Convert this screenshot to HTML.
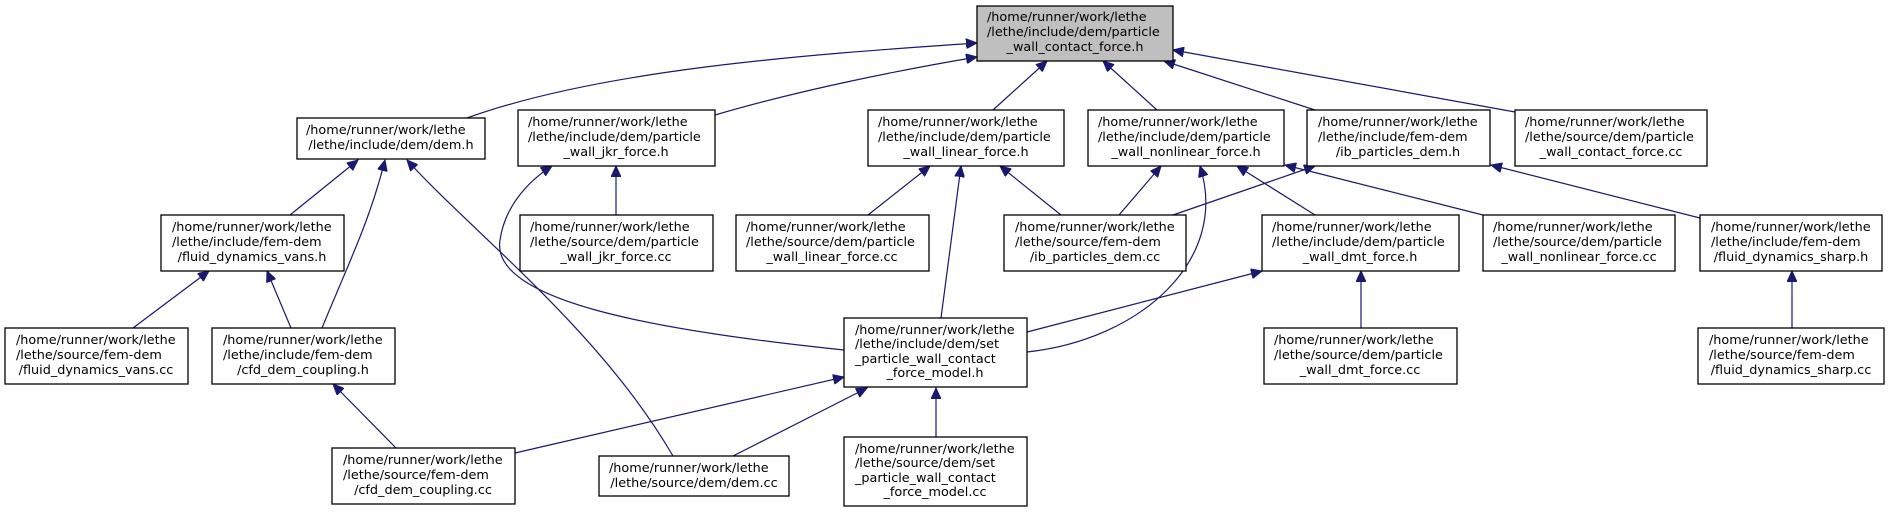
<!DOCTYPE html>
<html><head><meta charset="utf-8"><style>
html,body{margin:0;padding:0;background:#fff;}
svg{display:block;}
text{font-family:"DejaVu Sans","Liberation Sans",sans-serif;font-size:12.8px;fill:#000;}
rect{stroke:#000;stroke-width:1.3;}
path{fill:none;stroke:#191970;stroke-width:1.2;}
</style></head><body>
<svg width="1889" height="512" viewBox="0 0 1889 512" xmlns="http://www.w3.org/2000/svg">
<defs>
<marker id="a" markerUnits="userSpaceOnUse" markerWidth="12" markerHeight="10" refX="11" refY="5" orient="auto">
<path d="M0,0 L11,5 L0,10 Z" style="fill:#191970;stroke:#191970;stroke-width:1"/>
</marker>
</defs>
<g marker-end="url(#a)">
<path d="M467,118 C600,70 800,55 977,43"/>
<path d="M715,115 C800,90 900,70 977,57"/>
<path d="M993,110 L1047,61"/>
<path d="M1157,110 L1103,61"/>
<path d="M1315,110 L1164,61"/>
<path d="M1515,112 L1173,50"/>
<path d="M290,215 L358,160"/>
<path d="M322,328 C350,260 370,220 385,160"/>
<path d="M673,456 C600,330 470,230 407,160"/>
<path d="M133,328 L209,271"/>
<path d="M291,328 L267,271"/>
<path d="M396,448 L333,384"/>
<path d="M616,215 L616,166"/>
<path d="M844,350 C650,330 490,300 500,240 C505,205 530,180 552,166"/>
<path d="M868,215 L930,166"/>
<path d="M941,318 L961,166"/>
<path d="M1061,215 L1000,166"/>
<path d="M1119,215 L1161,166"/>
<path d="M1173,215 L1315,166"/>
<path d="M1027,352 C1140,340 1230,260 1200,166"/>
<path d="M1315,215 L1237,166"/>
<path d="M1483,215 L1285,165"/>
<path d="M1700,218 L1491,165"/>
<path d="M1027,332 L1262,271"/>
<path d="M1361,328 L1361,271"/>
<path d="M1792,328 L1792,271"/>
<path d="M515,453 L844,377"/>
<path d="M733,456 L867,388"/>
<path d="M936,437 L936,388"/>
</g>
<!-- nodes -->
<rect x="977" y="6" width="196" height="55" fill="#bfbfbf"/>
<text x="987" y="21">/home/runner/work/lethe</text><text x="987" y="36">/lethe/include/dem/particle</text><text x="1075" y="51" text-anchor="middle">_wall_contact_force.h</text>

<rect x="297" y="118" width="188" height="41" fill="#fff"/>
<text x="306" y="134">/home/runner/work/lethe</text><text x="391" y="149" text-anchor="middle">/lethe/include/dem/dem.h</text>

<rect x="518" y="110" width="197" height="56" fill="#fff"/>
<text x="528" y="126">/home/runner/work/lethe</text><text x="528" y="141">/lethe/include/dem/particle</text><text x="616" y="156" text-anchor="middle">_wall_jkr_force.h</text>

<rect x="868" y="110" width="196" height="56" fill="#fff"/>
<text x="878" y="126">/home/runner/work/lethe</text><text x="878" y="141">/lethe/include/dem/particle</text><text x="966" y="156" text-anchor="middle">_wall_linear_force.h</text>

<rect x="1088" y="110" width="196" height="56" fill="#fff"/>
<text x="1098" y="126">/home/runner/work/lethe</text><text x="1098" y="141">/lethe/include/dem/particle</text><text x="1186" y="156" text-anchor="middle">_wall_nonlinear_force.h</text>

<rect x="1307" y="110" width="183" height="56" fill="#fff"/>
<text x="1318" y="126">/home/runner/work/lethe</text><text x="1318" y="141">/lethe/include/fem-dem</text><text x="1398" y="156" text-anchor="middle">/ib_particles_dem.h</text>

<rect x="1515" y="110" width="192" height="56" fill="#fff"/>
<text x="1525" y="126">/home/runner/work/lethe</text><text x="1525" y="141">/lethe/source/dem/particle</text><text x="1611" y="156" text-anchor="middle">_wall_contact_force.cc</text>

<rect x="161" y="215" width="183" height="56" fill="#fff"/>
<text x="172" y="231">/home/runner/work/lethe</text><text x="172" y="246">/lethe/include/fem-dem</text><text x="252" y="261" text-anchor="middle">/fluid_dynamics_vans.h</text>

<rect x="520" y="215" width="193" height="56" fill="#fff"/>
<text x="530" y="231">/home/runner/work/lethe</text><text x="530" y="246">/lethe/source/dem/particle</text><text x="616" y="261" text-anchor="middle">_wall_jkr_force.cc</text>

<rect x="736" y="215" width="193" height="56" fill="#fff"/>
<text x="746" y="231">/home/runner/work/lethe</text><text x="746" y="246">/lethe/source/dem/particle</text><text x="832" y="261" text-anchor="middle">_wall_linear_force.cc</text>

<rect x="1004" y="215" width="182" height="56" fill="#fff"/>
<text x="1015" y="231">/home/runner/work/lethe</text><text x="1015" y="246">/lethe/source/fem-dem</text><text x="1095" y="261" text-anchor="middle">/ib_particles_dem.cc</text>

<rect x="1262" y="215" width="197" height="56" fill="#fff"/>
<text x="1272" y="231">/home/runner/work/lethe</text><text x="1272" y="246">/lethe/include/dem/particle</text><text x="1360" y="261" text-anchor="middle">_wall_dmt_force.h</text>

<rect x="1483" y="215" width="192" height="56" fill="#fff"/>
<text x="1493" y="231">/home/runner/work/lethe</text><text x="1493" y="246">/lethe/source/dem/particle</text><text x="1579" y="261" text-anchor="middle">_wall_nonlinear_force.cc</text>

<rect x="1700" y="215" width="182" height="56" fill="#fff"/>
<text x="1711" y="231">/home/runner/work/lethe</text><text x="1711" y="246">/lethe/include/fem-dem</text><text x="1791" y="261" text-anchor="middle">/fluid_dynamics_sharp.h</text>

<rect x="5" y="328" width="183" height="56" fill="#fff"/>
<text x="16" y="344">/home/runner/work/lethe</text><text x="16" y="359">/lethe/source/fem-dem</text><text x="96" y="374" text-anchor="middle">/fluid_dynamics_vans.cc</text>

<rect x="212" y="328" width="183" height="56" fill="#fff"/>
<text x="223" y="344">/home/runner/work/lethe</text><text x="223" y="359">/lethe/include/fem-dem</text><text x="303" y="374" text-anchor="middle">/cfd_dem_coupling.h</text>

<rect x="844" y="318" width="183" height="69" fill="#fff"/>
<text x="855" y="334">/home/runner/work/lethe</text><text x="855" y="348">/lethe/include/dem/set</text><text x="855" y="363">_particle_wall_contact</text><text x="935" y="377" text-anchor="middle">_force_model.h</text>

<rect x="1264" y="328" width="193" height="56" fill="#fff"/>
<text x="1274" y="344">/home/runner/work/lethe</text><text x="1274" y="359">/lethe/source/dem/particle</text><text x="1360" y="374" text-anchor="middle">_wall_dmt_force.cc</text>

<rect x="1698" y="328" width="186" height="56" fill="#fff"/>
<text x="1709" y="344">/home/runner/work/lethe</text><text x="1709" y="359">/lethe/source/fem-dem</text><text x="1791" y="374" text-anchor="middle">/fluid_dynamics_sharp.cc</text>

<rect x="332" y="448" width="183" height="56" fill="#fff"/>
<text x="343" y="464">/home/runner/work/lethe</text><text x="343" y="479">/lethe/source/fem-dem</text><text x="423" y="494" text-anchor="middle">/cfd_dem_coupling.cc</text>

<rect x="599" y="456" width="190" height="40" fill="#fff"/>
<text x="609" y="472">/home/runner/work/lethe</text><text x="694" y="487" text-anchor="middle">/lethe/source/dem/dem.cc</text>

<rect x="844" y="437" width="183" height="69" fill="#fff"/>
<text x="855" y="453">/home/runner/work/lethe</text><text x="855" y="467">/lethe/source/dem/set</text><text x="855" y="482">_particle_wall_contact</text><text x="935" y="496" text-anchor="middle">_force_model.cc</text>
</svg>
</body></html>
